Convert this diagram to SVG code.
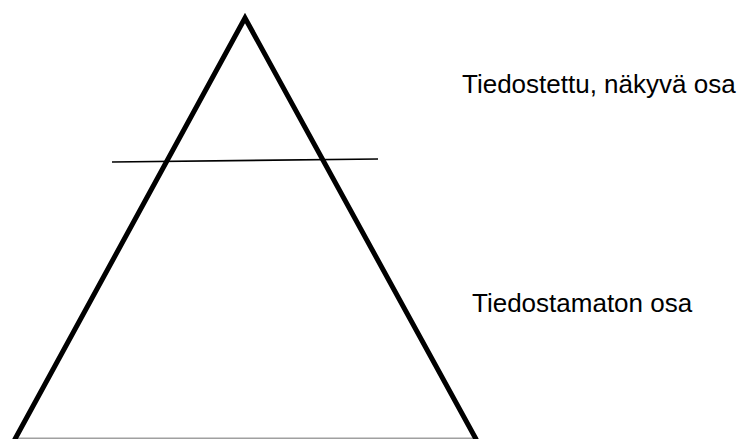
<svg xmlns="http://www.w3.org/2000/svg" width="741" height="439" viewBox="0 0 741 439">
<style>
.t{font-family:"Liberation Sans",Arial,sans-serif;font-size:26px;fill:#000}
</style>
<rect width="741" height="439" fill="#fff"/>
<g id="pyramid">
<line x1="15" y1="438.2" x2="477" y2="438.2" stroke="#a0a0a0" stroke-width="1.5"/>
<polyline points="14.5,440 245,18 476.5,440" fill="none" stroke="#000" stroke-width="5" stroke-linejoin="miter" stroke-miterlimit="10"/>
</g>
<g id="waterline">
<line x1="112" y1="162" x2="378" y2="159" stroke="#000" stroke-width="1.6"/>
</g>
<g id="labels">
<text class="t" x="462" y="92.5">Tiedostettu, näkyvä osa</text>
<text class="t" x="472" y="312">Tiedostamaton osa</text>
</g>
</svg>
